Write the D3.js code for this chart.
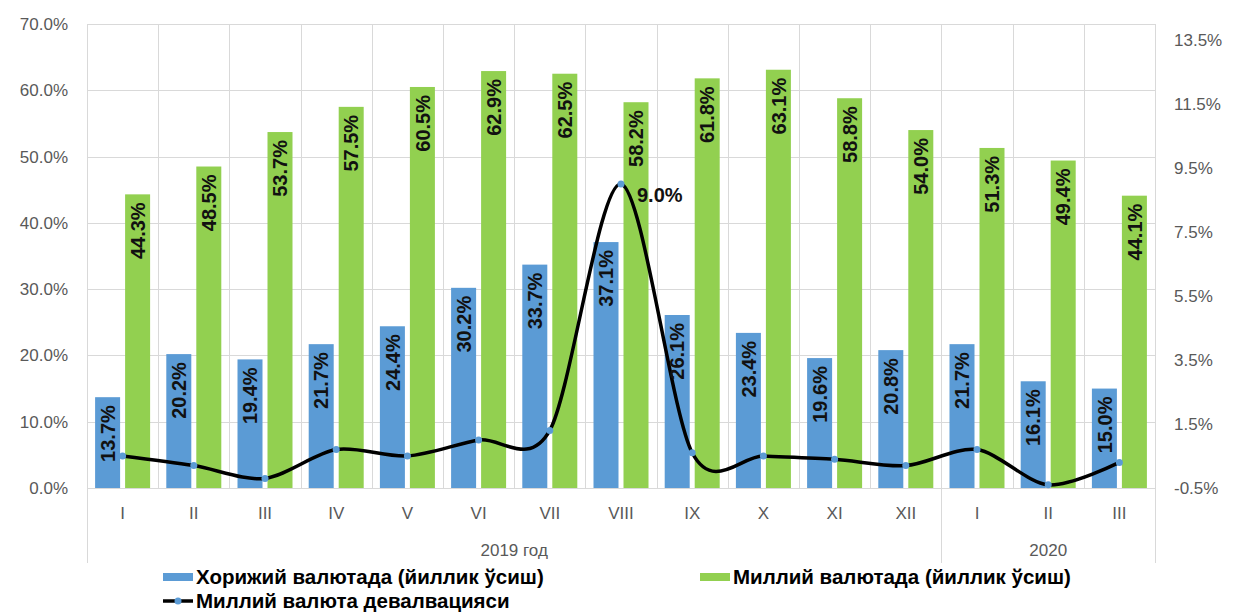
<!DOCTYPE html>
<html>
<head>
<meta charset="utf-8">
<script src="https://cdn.jsdelivr.net/npm/d3@7"></script>
<style>
	body { margin: 0; background: #fff; }
	svg { display: block; font-family: "Liberation Sans", Arial, sans-serif; }
</style>
</head>
<body>
<script>
//category labels (months), with the year groups below
var months = ["I", "II", "III", "IV", "V", "VI", "VII", "VIII", "IX", "X", "XI", "XII", "I", "II", "III"];
var yearLabels = ["2019 год", "2020"];
var yearSpans = [12, 3]; //how many months in each year group

//series values, %
var foreignGrowth = [13.7, 20.2, 19.4, 21.7, 24.4, 30.2, 33.7, 37.1, 26.1, 23.4, 19.6, 20.8, 21.7, 16.1, 15.0];
var nationalGrowth = [44.3, 48.5, 53.7, 57.5, 60.5, 62.9, 62.5, 58.2, 61.8, 63.1, 58.8, 54.0, 51.3, 49.4, 44.1];
var devaluation = [0.5, 0.2, -0.2, 0.7, 0.5, 1.0, 1.3, 9.0, 0.6, 0.5, 0.4, 0.2, 0.7, -0.4, 0.3];

//axis ticks
var leftTicks = [0, 10, 20, 30, 40, 50, 60, 70];
var rightTicks = [-0.5, 1.5, 3.5, 5.5, 7.5, 9.5, 11.5, 13.5];

var seriesNames = ["Хорижий валютада (йиллик ўсиш)", "Миллий валютада (йиллик ўсиш)", "Миллий валюта девалвацияси"];

var blue = "#5b9bd5",
	green = "#92d050",
	grid = "#d9d9d9",
	tickColor = "#595959";

var width = 1233, height = 614;
var plotL = 87, plotR = 1155, plotT = 24, plotB = 488;

var svg = d3.select("body").append("svg")
	.attr("width", width)
	.attr("height", height);

var idx = d3.range(months.length);

var x0 = d3.scaleBand().domain(idx).range([plotL, plotR]);
var x1 = d3.scaleBand().domain([0, 1]).range([0, x0.bandwidth()])
	.paddingInner(1 / 6).paddingOuter(0.27);
var yL = d3.scaleLinear().domain([0, 70]).range([plotB, plotT]);
var yR = d3.scaleLinear().domain([-0.5, 14]).range([plotB, plotT]);

//gridlines
svg.append("g").selectAll("line")
	.data(leftTicks).enter()
		.append("line")
		.attr("x1", plotL).attr("x2", plotR)
		.attr("y1", function(d) { return Math.round(yL(d)) + 0.5; })
		.attr("y2", function(d) { return Math.round(yL(d)) + 0.5; })
		.style("stroke", grid);
svg.append("g").selectAll("line")
	.data(d3.range(months.length + 1)).enter()
		.append("line")
		.attr("x1", function(i) { return Math.round(plotL + i * x0.step()) + 0.5; })
		.attr("x2", function(i) { return Math.round(plotL + i * x0.step()) + 0.5; })
		.attr("y1", plotT).attr("y2", plotB)
		.style("stroke", grid);

//year group separators below the axis
var bounds = [0];
yearSpans.forEach(function(n) { bounds.push(bounds[bounds.length - 1] + n); });
svg.append("g").selectAll("line")
	.data(bounds).enter()
		.append("line")
		.attr("x1", function(b) { return Math.round(plotL + b * x0.step()) + 0.5; })
		.attr("x2", function(b) { return Math.round(plotL + b * x0.step()) + 0.5; })
		.attr("y1", plotB).attr("y2", 563)
		.style("stroke", grid);

//left axis
var axisL = svg.append("g")
	.attr("transform", "translate(" + plotL + ",0)")
	.call(d3.axisLeft(yL).tickValues(leftTicks).tickSize(0).tickPadding(19)
		.tickFormat(function(d) { return d.toFixed(1) + "%"; }));
axisL.select(".domain").remove();

//right axis
var axisR = svg.append("g")
	.attr("transform", "translate(" + plotR + ",0)")
	.call(d3.axisRight(yR).tickValues(rightTicks).tickSize(0).tickPadding(19)
		.tickFormat(function(d) { return d.toFixed(1) + "%"; }));
axisR.select(".domain").remove();

svg.selectAll(".tick text")
	.style("font-size", "17px")
	.style("fill", tickColor)
	.style("font-family", "Liberation Sans, Arial, sans-serif");

//bars
var series = [foreignGrowth, nationalGrowth];
var colors = [blue, green];
series.forEach(function(vals, s) {
	svg.append("g").selectAll("rect")
		.data(vals).enter()
			.append("rect")
			.attr("x", function(d, i) { return x0(i) + x1(s); })
			.attr("width", x1.bandwidth())
			.attr("y", function(d) { return yL(d); })
			.attr("height", function(d) { return yL(0) - yL(d); })
			.style("fill", colors[s]);
});

//category axis
svg.append("line")
	.attr("x1", plotL).attr("x2", plotR)
	.attr("y1", plotB + 0.5).attr("y2", plotB + 0.5)
	.style("stroke", grid);
svg.append("g").selectAll("text")
	.data(months).enter()
		.append("text")
		.attr("x", function(d, i) { return x0(i) + x0.bandwidth() / 2; })
		.attr("y", 519)
		.style("text-anchor", "middle")
		.style("font-size", "17px")
		.style("fill", tickColor)
		.text(function(d) { return d; });
svg.append("g").selectAll("text")
	.data(yearLabels).enter()
		.append("text")
		.attr("x", function(d, j) { return plotL + (bounds[j] + bounds[j + 1]) / 2 * x0.step(); })
		.attr("y", 556)
		.style("text-anchor", "middle")
		.style("font-size", "17px")
		.style("fill", tickColor)
		.text(function(d) { return d; });

//devaluation line
var line = d3.line()
	.x(function(d, i) { return x0(i) + x0.bandwidth() / 2; })
	.y(function(d) { return yR(d); })
	.curve(d3.curveCardinal.tension(0.1));
svg.append("path")
	.datum(devaluation)
	.attr("d", line)
	.style("fill", "none")
	.style("stroke", "#000")
	.style("stroke-width", 3.5);
svg.append("g").selectAll("circle")
	.data(devaluation).enter()
		.append("circle")
		.attr("cx", function(d, i) { return x0(i) + x0.bandwidth() / 2; })
		.attr("cy", function(d) { return yR(d); })
		.attr("r", 3.5)
		.style("fill", blue);

//bar labels, rotated, inside the top of the bar
var labelSize = 20;
series.forEach(function(vals, s) {
	svg.append("g").selectAll("text")
		.data(vals).enter()
			.append("text")
			.attr("transform", function(d, i) {
				var cx = x0(i) + x1(s) + x1.bandwidth() / 2;
				return "translate(" + cx + "," + (yL(d) + 8) + ") rotate(-90)";
			})
			.attr("dy", "0.36em")
			.style("text-anchor", "end")
			.style("font-size", labelSize + "px")
			.style("font-weight", "bold")
			.style("fill", "#111")
			.text(function(d) { return d.toFixed(1) + "%"; });
});

//only the peak of the devaluation line is labelled
var peak = d3.maxIndex(devaluation);
svg.append("text")
	.attr("x", x0(peak) + x0.bandwidth() / 2 + 16)
	.attr("y", yR(devaluation[peak]) + 11)
	.attr("dy", "0.36em")
	.style("font-size", labelSize + "px")
	.style("font-weight", "bold")
	.style("fill", "#111")
	.text(devaluation[peak].toFixed(1) + "%");

//legend
var legend = svg.append("g").style("font-size", "20.5px").style("font-weight", "bold");
var legendPos = [[163, 577], [700, 577], [163, 601]];
[0, 1].forEach(function(s) {
	legend.append("rect")
		.attr("x", legendPos[s][0]).attr("y", legendPos[s][1] - 4)
		.attr("width", 30).attr("height", 8)
		.style("fill", colors[s]);
});
legend.append("line")
	.attr("x1", legendPos[2][0]).attr("x2", legendPos[2][0] + 30)
	.attr("y1", legendPos[2][1]).attr("y2", legendPos[2][1])
	.style("stroke", "#000").style("stroke-width", 3.5);
legend.append("circle")
	.attr("cx", legendPos[2][0] + 15).attr("cy", legendPos[2][1])
	.attr("r", 3.5).style("fill", blue);
legend.selectAll("text")
	.data(seriesNames).enter()
		.append("text")
		.attr("x", function(d, i) { return legendPos[i][0] + 33; })
		.attr("y", function(d, i) { return legendPos[i][1]; })
		.attr("dy", "0.36em")
		.style("fill", "#000")
		.text(function(d) { return d; });
</script>
</body>
</html>
